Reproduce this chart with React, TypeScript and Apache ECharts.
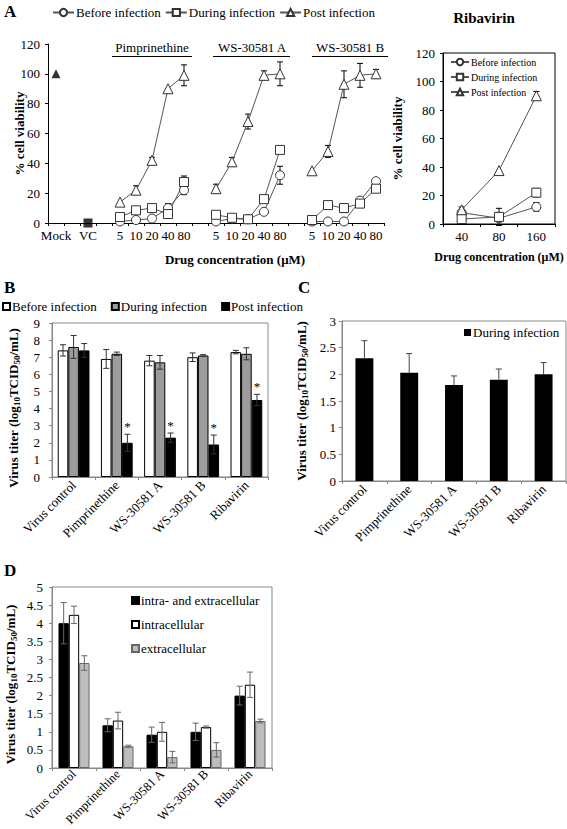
import React, { useEffect, useRef } from 'react';
import * as echarts from 'echarts';

const FONT = "'Liberation Serif', serif";

// ---------- Panel A: cell viability ----------
const aCategories = ['Mock', '', 'VC', '', '5', '10', '20', '40', '80', '', '5', '10', '20', '40', '80', '', '5', '10', '20', '40', '80'];
const aBefore = [null, null, null, null, 1, 2, 3, 10, 22, null, 1, 3, 2.5, 7.5, 32, null, 1, 1, 1, 15, 28];
const aBeforeErr = [0, 0, 0, 0, 0, 0, 0, 3, 3, 0, 0, 0, 0, 0, 6, 0, 0, 0, 0, 0, 0];
const aDuring = [null, null, null, null, 4, 8.5, 10, 6, 27.5, null, 5.5, 3.5, 2.5, 16, 49, null, 2, 12, 10, 13, 23];
const aDuringErr = [0, 0, 0, 0, 0, 2, 0, 0, 4, 0, 0, 0, 0, 0, 2, 0, 0, 2, 3, 0, 0];
const aPost = [null, null, null, null, 14, 22, 42, 90, 99, null, 23, 41, 68, 99, 100, null, 35, 48, 93, 99, 100];
const aPostErr = [0, 0, 0, 0, 0, 3, 2, 0, 7, 0, 3, 3, 5, 3, 8, 0, 0, 4, 9, 8, 3];
const aMock = [[0, 100]];
const aVC = [[2, 0]];
const aTicks = { min: 0, max: 120, interval: 20 };

// ---------- Ribavirin ----------
const ribCategories = ['40', '80', '160'];
const ribBefore = [8, 4, 12];
const ribBeforeErr = [0, 0, 3];
const ribDuring = [3.5, 5, 22];
const ribDuringErr = [0, 6, 3];
const ribPost = [10, 37.5, 90];
const ribPostErr = [2, 0, 3];

// ---------- Panel B / C / D ----------
const titerCategories = ['Virus control', 'Pimprinethine', 'WS-30581 A', 'WS-30581 B', 'Ribavirin'];
const bBefore = [7.4, 6.9, 6.8, 7.0, 7.3];
const bBeforeErr = [0.33, 0.55, 0.3, 0.25, 0.1];
const bDuring = [7.6, 7.2, 6.7, 7.1, 7.2];
const bDuringErr = [0.67, 0.1, 0.4, 0.05, 0.35];
const bPost = [7.4, 2.0, 2.3, 1.9, 4.5];
const bPostErr = [0.4, 0.5, 0.27, 0.55, 0.33];
const bSignificant = [0, 1, 1, 1, 1];

const cDuring = [2.3, 2.03, 1.8, 1.9, 2.0];
const cDuringErr = [0.33, 0.36, 0.17, 0.2, 0.22];

const dBoth = [4.0, 1.18, 0.92, 1.0, 2.0];
const dBothErr = [0.57, 0.18, 0.21, 0.24, 0.26];
const dIntra = [4.23, 1.31, 1.0, 1.13, 2.3];
const dIntraErr = [0.24, 0.23, 0.26, 0.03, 0.35];
const dExtra = [2.9, 0.6, 0.3, 0.5, 1.3];
const dExtraErr = [0.2, 0.03, 0.16, 0.2, 0.05];

const TITER_NAME = '{a|Virus titer (log}{s|10}{a|TCID}{s|50}{a|/mL)}';
const titerRich = {
  a: { fontFamily: FONT, fontSize: 13, fontWeight: 'bold', color: '#000', lineHeight: 16, verticalAlign: 'middle' },
  s: { fontFamily: FONT, fontSize: 9, fontWeight: 'bold', color: '#000', lineHeight: 9, verticalAlign: 'bottom' },
};

function errorBars(xAxisIndex: number, yAxisIndex: number, values: any[], errors: number[], offset: number, opts: any) {
  const data: any[] = [];
  values.forEach((v, i) => {
    if (v == null || !errors[i]) return;
    data.push([i, v, errors[i], opts.stars ? opts.stars[i] : 0]);
  });
  return {
    type: 'custom',
    xAxisIndex,
    yAxisIndex,
    silent: true,
    z: opts.z ?? 10,
    encode: { x: 0, y: 1 },
    itemStyle: { color: '#000' },
    data,
    renderItem: (params: any, api: any) => {
      const i = api.value(0);
      const v = api.value(1);
      const e = api.value(2);
      const s = api.value(3);
      const band = api.size([1, 0])[0];
      const p = api.coord([i, v]);
      const x = p[0] + offset * band;
      const yTop = api.coord([i, v + e])[1];
      const yBot = opts.upOnly ? p[1] : api.coord([i, v - e])[1];
      const cw = opts.cap;
      const style = { stroke: opts.color, lineWidth: 1 };
      const children: any[] = [
        { type: 'line', shape: { x1: x, y1: yTop, x2: x, y2: yBot }, style },
        { type: 'line', shape: { x1: x - cw, y1: yTop, x2: x + cw, y2: yTop }, style },
      ];
      if (!opts.upOnly) children.push({ type: 'line', shape: { x1: x - cw, y1: yBot, x2: x + cw, y2: yBot }, style });
      if (s) {
        children.push({
          type: 'text',
          x,
          y: yTop - 1,
          style: { text: '*', align: 'center', verticalAlign: 'bottom', fontFamily: FONT, fontSize: 13, fill: '#000' },
        });
      }
      return { type: 'group', children };
    },
  };
}

const lineSym = (name: string, symbol: string, size: number, xi: number, data: any[]) => ({
  name,
  type: 'line',
  xAxisIndex: xi,
  yAxisIndex: xi,
  data,
  symbol,
  symbolSize: size,
  showSymbol: true,
  showAllSymbol: true,
  connectNulls: false,
  z: 5,
  lineStyle: { color: '#555', width: 1 },
  itemStyle: { color: '#fff', borderColor: '#333', borderWidth: 1 },
});

const labelStyle = { fontFamily: FONT, fontSize: 13, color: '#000' };
const nameStyle = { fontFamily: FONT, fontSize: 13, fontWeight: 'bold', color: '#000' };

function catAxis(gridIndex: number, data: string[], extra: any = {}) {
  return {
    type: 'category',
    gridIndex,
    data,
    boundaryGap: true,
    axisLine: { show: true, lineStyle: { color: extra.lineColor || '#000', width: 1 } },
    axisTick: { show: true, length: 3, lineStyle: { color: extra.lineColor || '#000' } },
    axisLabel: { ...labelStyle, interval: 0, margin: 6, rotate: extra.rotate || 0, ...(extra.label || {}) },
    splitLine: { show: false },
    ...(extra.axis || {}),
  };
}

function valAxis(gridIndex: number, min: number, max: number, interval: number, extra: any = {}) {
  return {
    type: 'value',
    gridIndex,
    min,
    max,
    interval,
    axisLine: { show: true, lineStyle: { color: extra.lineColor || '#000', width: 1 } },
    axisTick: { show: true, length: 3, lineStyle: { color: extra.lineColor || '#000' } },
    axisLabel: { ...labelStyle, margin: extra.margin ?? 8 },
    splitLine: { show: false },
    ...(extra.axis || {}),
  };
}

const stripName = (n: string) => n.split('#')[0];

export default function App() {
  const ref = useRef<HTMLDivElement>(null);
  useEffect(() => {
    if (!ref.current) return;
    const chart = echarts.init(ref.current, undefined, { renderer: 'svg' });
    const gray = '#888';
    const g = (o: any) => ({ outerBoundsMode: 'none', containLabel: false, ...o });
    const option: any = {
      animation: false,
      backgroundColor: '#fff',
      textStyle: { fontFamily: FONT },
      grid: [
        g({ left: 48, top: 44, width: 336, height: 179 }),
        g({ left: 443, top: 53, width: 112, height: 171, show: true, borderColor: '#000', borderWidth: 1 }),
        g({ left: 52, top: 323, width: 216, height: 154, show: true, borderColor: gray, borderWidth: 1 }),
        g({ left: 342, top: 321, width: 224, height: 160, show: true, borderColor: gray, borderWidth: 1 }),
        g({ left: 52, top: 587, width: 220, height: 181, show: true, borderColor: gray, borderWidth: 1 }),
      ],
      xAxis: [
        catAxis(0, aCategories),
        catAxis(1, ribCategories, {
          axis: { name: 'Drug concentration (μM)', nameLocation: 'middle', nameGap: 27, nameTextStyle: { ...nameStyle, fontSize: 12 } },
        }),
        catAxis(2, titerCategories, { rotate: 45, lineColor: gray }),
        catAxis(3, titerCategories, { rotate: 45, lineColor: gray }),
        catAxis(4, titerCategories, { rotate: 45, lineColor: gray, label: { fontSize: 12.5, lineHeight: 12, margin: 4 } }),
      ],
      yAxis: [
        valAxis(0, aTicks.min, aTicks.max, aTicks.interval, {
          axis: { name: '% cell viability', nameLocation: 'middle', nameGap: 22, nameMoveOverlap: false, nameTextStyle: { ...nameStyle, lineHeight: 14 } },
        }),
        valAxis(1, aTicks.min, aTicks.max, aTicks.interval, {
          axis: { name: '% cell viability', nameLocation: 'middle', nameGap: 39, nameTextStyle: nameStyle },
        }),
        valAxis(2, 0, 9, 1, {
          lineColor: gray,
          margin: 12,
          axis: { name: TITER_NAME, nameLocation: 'middle', nameGap: 31, nameTextStyle: { rich: titerRich, padding: [0, 16, 0, 0] } },
        }),
        valAxis(3, 0, 3, 0.5, {
          lineColor: gray,
          margin: 6,
          axis: { name: TITER_NAME, nameLocation: 'middle', nameGap: 33, nameTextStyle: { rich: titerRich } },
        }),
        valAxis(4, 0, 5, 0.5, {
          lineColor: gray,
          margin: 9,
          axis: { name: TITER_NAME, nameLocation: 'middle', nameGap: 34, nameTextStyle: { rich: titerRich, padding: [0, 14, 0, 0] } },
        }),
      ],
      legend: [
        {
          data: ['Before infection', 'During infection', 'Post infection'],
          left: 52, top: 6, itemWidth: 21, itemHeight: 9, itemGap: 4, padding: 0,
          textStyle: { ...labelStyle, padding: [0, 0, 0, -3] },
          selectedMode: false,
        },
        {
          data: ['Before infection', 'During infection', 'Post infection'],
          orient: 'vertical', left: 450, top: 57, itemWidth: 18, itemHeight: 8, itemGap: 5, padding: 0,
          textStyle: { ...labelStyle, fontSize: 10, padding: [0, 0, 0, -3] },
          selectedMode: false,
        },
        {
          data: ['Before infection#B', 'During infection#B', 'Post infection#B'],
          icon: 'rect', left: 2, top: 300, itemWidth: 7, itemHeight: 7, itemGap: 14, padding: 0,
          formatter: stripName, textStyle: { ...labelStyle, padding: [0, 0, 0, -3] },
          selectedMode: false,
        },
        {
          data: ['During infection#C'],
          icon: 'rect', left: 464, top: 326, itemWidth: 7, itemHeight: 7, padding: 0,
          formatter: stripName, textStyle: { ...labelStyle, padding: [0, 0, 0, -3] },
          selectedMode: false,
        },
        {
          data: ['intra- and extracellular', 'intracellular', 'extracellular'],
          orient: 'vertical', icon: 'rect', left: 131, top: 594, itemWidth: 7, itemHeight: 7, itemGap: 11, padding: 0,
          textStyle: { ...labelStyle, padding: [0, 0, 0, -3] },
          selectedMode: false,
        },
      ],
      graphic: [
        { type: 'text', x: 4, y: 3, style: { text: 'A', fontFamily: FONT, fontSize: 17, fontWeight: 'bold', fill: '#000' } },
        { type: 'text', x: 4, y: 279, style: { text: 'B', fontFamily: FONT, fontSize: 17, fontWeight: 'bold', fill: '#000' } },
        { type: 'text', x: 298, y: 279, style: { text: 'C', fontFamily: FONT, fontSize: 17, fontWeight: 'bold', fill: '#000' } },
        { type: 'text', x: 4, y: 562, style: { text: 'D', fontFamily: FONT, fontSize: 17, fontWeight: 'bold', fill: '#000' } },
        { type: 'text', x: 484, y: 18, style: { text: 'Ribavirin', align: 'center', verticalAlign: 'middle', fontFamily: FONT, fontSize: 15, fontWeight: 'bold', fill: '#000' } },
        { type: 'text', x: 152, y: 47, style: { text: 'Pimprinethine', align: 'center', verticalAlign: 'middle', fontFamily: FONT, fontSize: 13, fill: '#000' } },
        { type: 'line', shape: { x1: 112, y1: 56.5, x2: 192, y2: 56.5 }, style: { stroke: '#000', lineWidth: 1 } },
        { type: 'text', x: 252, y: 47, style: { text: 'WS-30581 A', align: 'center', verticalAlign: 'middle', fontFamily: FONT, fontSize: 13, fill: '#000' } },
        { type: 'line', shape: { x1: 213, y1: 56.5, x2: 290, y2: 56.5 }, style: { stroke: '#000', lineWidth: 1 } },
        { type: 'text', x: 350, y: 47, style: { text: 'WS-30581 B', align: 'center', verticalAlign: 'middle', fontFamily: FONT, fontSize: 13, fill: '#000' } },
        { type: 'line', shape: { x1: 312, y1: 56.5, x2: 388, y2: 56.5 }, style: { stroke: '#000', lineWidth: 1 } },
        { type: 'text', x: 235, y: 259, style: { text: 'Drug concentration (μM)', align: 'center', verticalAlign: 'middle', fontFamily: FONT, fontSize: 13, fontWeight: 'bold', fill: '#000' } },
      ],
      series: [
        // Panel A
        errorBars(0, 0, aBefore, aBeforeErr, 0, { color: '#000', cap: 3, z: 2 }),
        errorBars(0, 0, aDuring, aDuringErr, 0, { color: '#000', cap: 3, z: 2 }),
        errorBars(0, 0, aPost, aPostErr, 0, { color: '#000', cap: 3, z: 2 }),
        lineSym('Before infection', 'circle', 9, 0, aBefore),
        lineSym('During infection', 'rect', 9, 0, aDuring),
        lineSym('Post infection', 'triangle', 10, 0, aPost),
        { type: 'scatter', xAxisIndex: 0, yAxisIndex: 0, data: aMock, symbol: 'triangle', symbolSize: 9, itemStyle: { color: '#000' }, z: 6 },
        { type: 'scatter', xAxisIndex: 0, yAxisIndex: 0, data: aVC, symbol: 'rect', symbolSize: 9, itemStyle: { color: '#000' }, z: 6 },
        // Ribavirin
        errorBars(1, 1, ribBefore, ribBeforeErr, 0, { color: '#000', cap: 3, z: 2 }),
        errorBars(1, 1, ribDuring, ribDuringErr, 0, { color: '#000', cap: 3, z: 2 }),
        errorBars(1, 1, ribPost, ribPostErr, 0, { color: '#000', cap: 3, z: 2 }),
        lineSym('Before infection', 'circle', 9, 1, ribBefore),
        lineSym('During infection', 'rect', 9, 1, ribDuring),
        lineSym('Post infection', 'triangle', 10, 1, ribPost),
        // Panel B
        { name: 'Before infection#B', type: 'bar', xAxisIndex: 2, yAxisIndex: 2, data: bBefore, barWidth: '24.5%', barGap: '0%', itemStyle: { color: '#fff', borderColor: '#000', borderWidth: 1 } },
        { name: 'During infection#B', type: 'bar', xAxisIndex: 2, yAxisIndex: 2, data: bDuring, barWidth: '24.5%', barGap: '0%', itemStyle: { color: '#9c9c9c', borderColor: '#000', borderWidth: 1 } },
        { name: 'Post infection#B', type: 'bar', xAxisIndex: 2, yAxisIndex: 2, data: bPost, barWidth: '24.5%', barGap: '0%', itemStyle: { color: '#000', borderColor: '#000', borderWidth: 1 } },
        errorBars(2, 2, bBefore, bBeforeErr, -0.245, { color: '#333', cap: 3 }),
        errorBars(2, 2, bDuring, bDuringErr, 0, { color: '#333', cap: 3 }),
        errorBars(2, 2, bPost, bPostErr, 0.245, { color: '#333', cap: 3, stars: bSignificant }),
        // Panel C
        { name: 'During infection#C', type: 'bar', xAxisIndex: 3, yAxisIndex: 3, data: cDuring, barWidth: '40%', itemStyle: { color: '#000' } },
        errorBars(3, 3, cDuring, cDuringErr, 0, { color: '#444', cap: 3, upOnly: true }),
        // Panel D
        { name: 'intra- and extracellular', type: 'bar', xAxisIndex: 4, yAxisIndex: 4, data: dBoth, barWidth: '23.5%', barGap: '0%', itemStyle: { color: '#000', borderColor: '#000', borderWidth: 1 } },
        { name: 'intracellular', type: 'bar', xAxisIndex: 4, yAxisIndex: 4, data: dIntra, barWidth: '23.5%', barGap: '0%', itemStyle: { color: '#fff', borderColor: '#000', borderWidth: 1 } },
        { name: 'extracellular', type: 'bar', xAxisIndex: 4, yAxisIndex: 4, data: dExtra, barWidth: '23.5%', barGap: '0%', itemStyle: { color: '#bdbdbd', borderColor: '#666', borderWidth: 1 } },
        errorBars(4, 4, dBoth, dBothErr, -0.235, { color: '#666', cap: 3 }),
        errorBars(4, 4, dIntra, dIntraErr, 0, { color: '#666', cap: 3 }),
        errorBars(4, 4, dExtra, dExtraErr, 0.235, { color: '#666', cap: 3 }),
      ],
    };
    chart.setOption(option);
    return () => chart.dispose();
  }, []);
  return <div ref={ref} style={{ position: 'fixed', left: 0, top: 0, width: 567, height: 829, background: '#fff' }} />;
}
